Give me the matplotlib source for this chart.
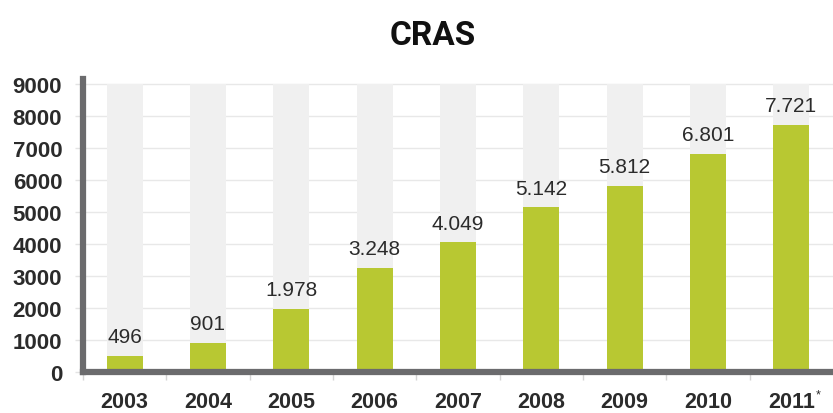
"""CRAS units per year: bar chart with gray full-height backdrops."""
import matplotlib
matplotlib.use("Agg")
import matplotlib.pyplot as plt
import numpy as np

years = ["2003", "2004", "2005", "2006", "2007", "2008", "2009", "2010", "2011"]
footnoted_year = "2011"
units = [496, 901, 1978, 3248, 4049, 5142, 5812, 6801, 7721]
y_ticks = [0, 1000, 2000, 3000, 4000, 5000, 6000, 7000, 8000, 9000]

BAR_GREEN = "#b8c832"
BACK_GRAY = "#f0f0f0"
SPINE_GRAY = "#6b6b6d"
TEXT_DARK = "#2b2b2b"

plt.rcParams["font.family"] = ["Liberation Sans", "DejaVu Sans"]

fig = plt.figure(figsize=(8.33, 4.14), dpi=100)
ax = fig.add_axes([0.0996, 0.099, 0.9004, 0.708])

x = np.arange(len(years))
width = 0.43

# full-height backdrop columns, then the real values
ax.bar(x, [y_ticks[-1]] * len(x), width=width, color=BACK_GRAY, zorder=1)
ax.bar(x, units, width=width, color=BAR_GREEN, zorder=2)

for xi, val in zip(x, units):
    label = f"{val:,}".replace(",", ".")
    ax.annotate(label, (xi, val), xytext=(0, 7), textcoords="offset points",
                ha="center", va="bottom", fontsize=15, color=TEXT_DARK, zorder=3)

ax.set_xlim(-0.5, 8.5)
ax.set_ylim(0, 9150)

ax.set_yticks(y_ticks)
ax.set_yticklabels([str(t) for t in y_ticks], fontsize=16, fontweight="bold", color=TEXT_DARK)
ax.set_xticks(x)
xlabels = ax.set_xticklabels(years, fontsize=15.5, fontweight="bold", color=TEXT_DARK)
ax.set_xticks(np.arange(-0.5, 8.5, 1.0), minor=True)

ax.tick_params(axis="x", which="major", length=0, pad=14)
ax.tick_params(axis="x", which="minor", length=6, width=1, color="#d5d5d5")
ax.tick_params(axis="y", length=6, width=1, color="#e3e3e3", pad=9)

# small raised asterisk after the provisional year
for lab in xlabels:
    if lab.get_text() == footnoted_year:
        ax.annotate("*", xy=(1, 1), xycoords=lab, xytext=(1, 2),
                    textcoords="offset points", ha="left", va="top",
                    fontsize=9, color=TEXT_DARK, annotation_clip=False)

ax.yaxis.grid(True, color="#e8e8e8", linewidth=1)
ax.set_axisbelow(True)

for side in ("top", "right"):
    ax.spines[side].set_visible(False)
for side in ("left", "bottom"):
    ax.spines[side].set_color(SPINE_GRAY)
    ax.spines[side].set_linewidth(4.5)
    ax.spines[side].set_zorder(4)

fig.text(0.519, 0.912, "CRAS", ha="center", va="center", fontsize=24,
         fontweight="bold", family=["Roboto", "DejaVu Sans"], color="#111111")

fig.savefig("out.png", dpi=100)
plt.close(fig)
